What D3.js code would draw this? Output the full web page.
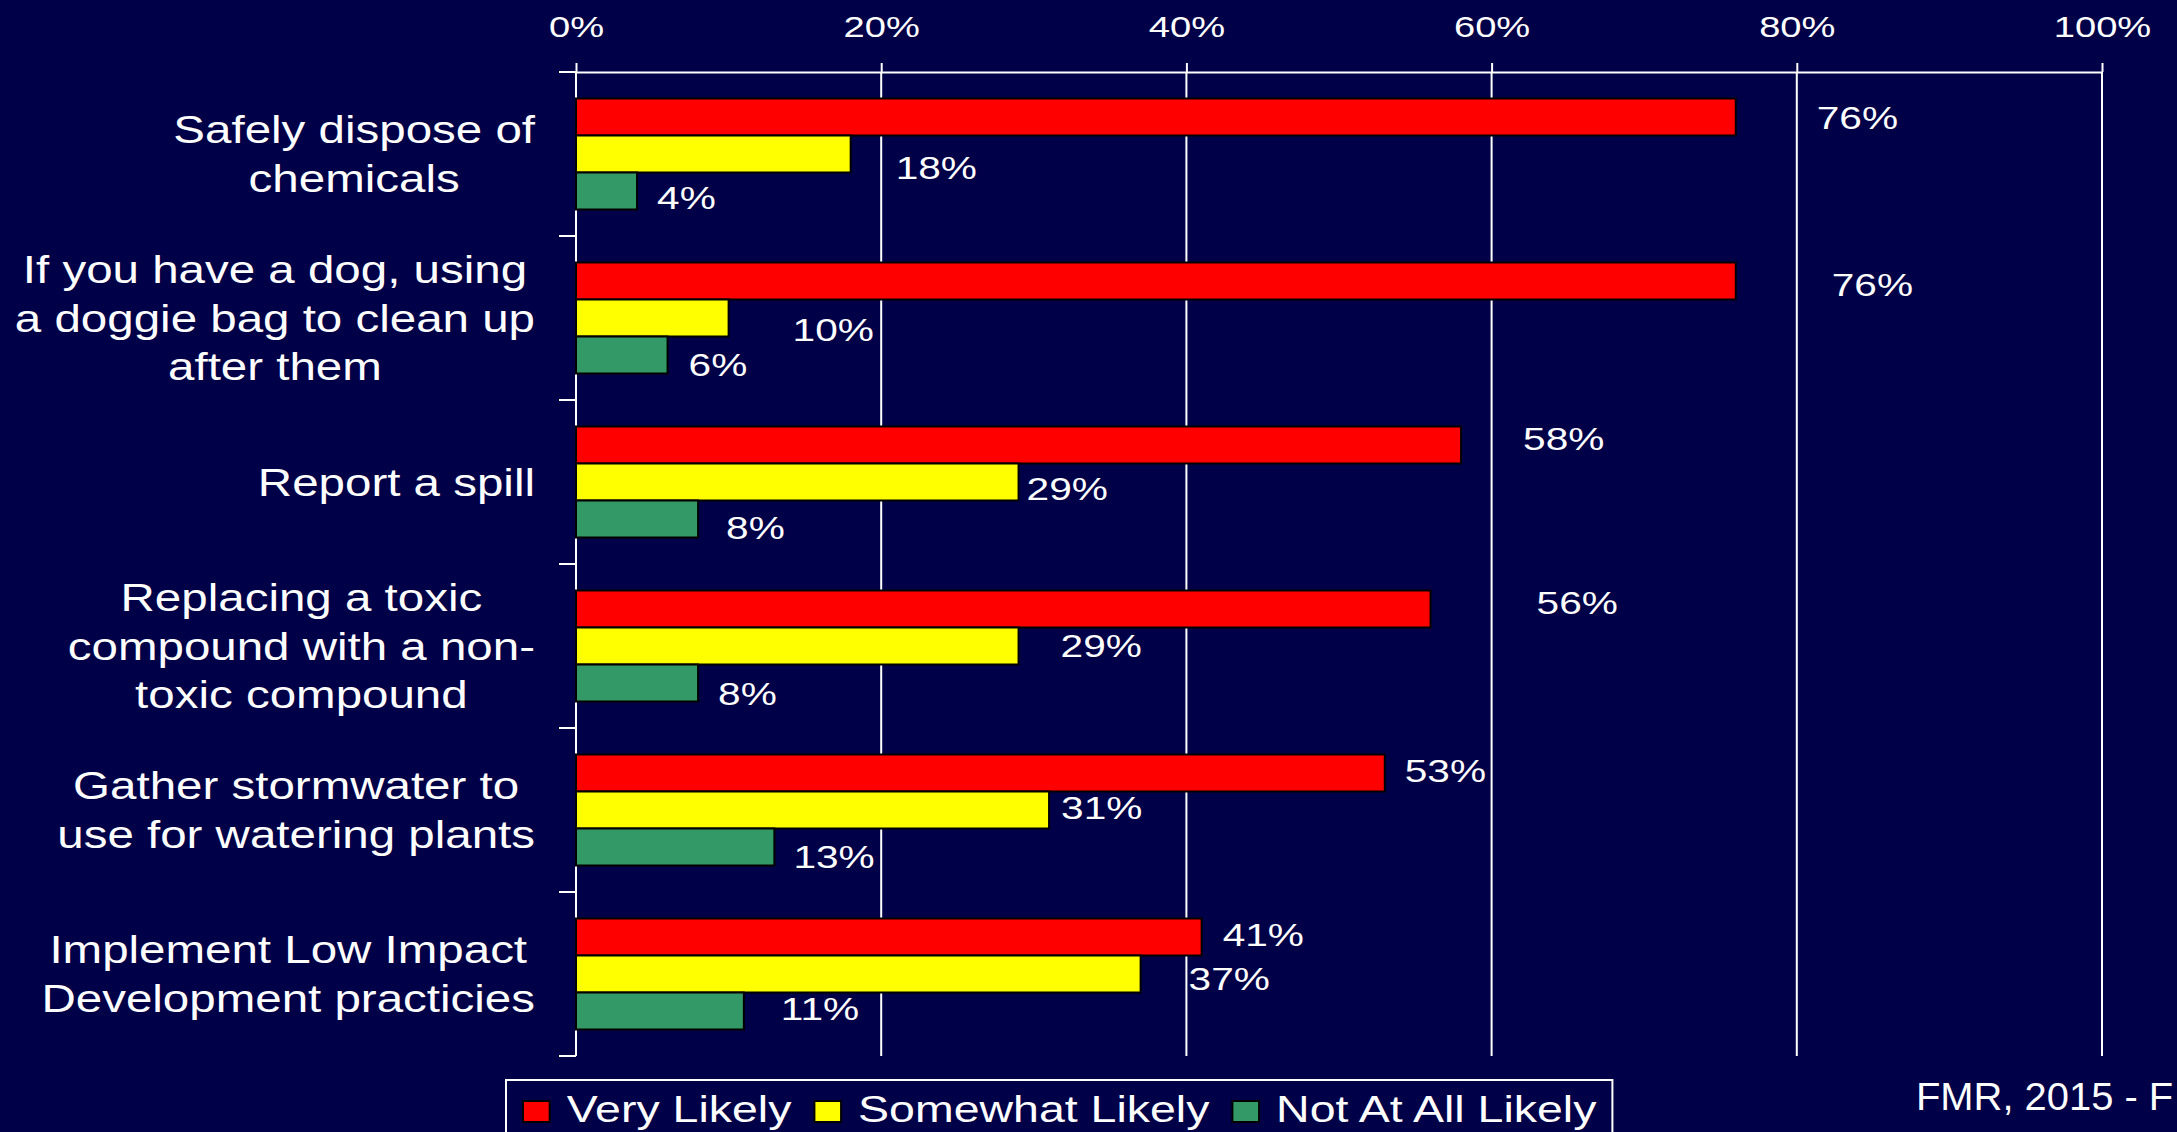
<!DOCTYPE html>
<html>
<head>
<meta charset="utf-8">
<script src="https://cdn.jsdelivr.net/npm/d3@7"></script>
<style>
  html, body { margin: 0; padding: 0; background: #000048; overflow: hidden; }
  svg { display: block; }
</style>
</head>
<body>
<svg id="chart" width="2177" height="1132"></svg>
<script>
// ---- data ----
const categories = [
  ["Safely dispose of", "chemicals"],
  ["If you have a dog, using", "a doggie bag to clean up", "after them"],
  ["Report a spill"],
  ["Replacing a toxic", "compound with a non-", "toxic compound"],
  ["Gather stormwater to", "use for watering plants"],
  ["Implement Low Impact", "Development practicies"]
];
const series = ["Very Likely", "Somewhat Likely", "Not At All Likely"];
const veryLikely     = [76, 76, 58, 56, 53, 41];
const somewhatLikely = [18, 10, 29, 29, 31, 37];
const notAtAllLikely = [4, 6, 8, 8, 13, 11];
const xTicks = [0, 20, 40, 60, 80, 100];
const footerText = "FMR, 2015 - F";

// hand-placed offsets of each value label from the end of its bar [dx, dy]
const labelNudges = [
  [[81, 1], [45, 14], [20, 7]],
  [[96, 4], [64, 12], [21, 10]],
  [[62, -6], [8, 7], [28, 9]],
  [[106, -6], [42, 0], [20, 11]],
  [[20, -2], [12, -2], [19, 10]],
  [[21, -2], [48, 5], [37, -2]]
];

const seriesValues = [veryLikely, somewhatLikely, notAtAllLikely];
const seriesColors = ["#ff0000", "#ffff00", "#339966"];

// ---- layout ----
const W = 2177, H = 1132;
const FONT = "'Liberation Sans', Arial, sans-serif";
const SX = 1.27;               // horizontal text stretch of the slide
const plot = { left: 576, right: 2102, top: 72, bottom: 1056 };

const svg = d3.select("#chart");
svg.append("rect").attr("width", W).attr("height", H).attr("fill", "#000048");

const x = d3.scaleLinear().domain([0, 100]).range([plot.left, plot.right]);
const y0 = d3.scaleBand().domain(d3.range(categories.length)).range([plot.top, plot.bottom]);
const y1 = d3.scaleBand().domain(series).range([0, y0.bandwidth()]).paddingOuter(0.716);

function stretch(x, y, sx = SX) { return `translate(${x},${y}) scale(${sx},1)`; }

// ---- top axis with grid ----
const gAxis = svg.append("g").attr("transform", `translate(0,${plot.top})`);
gAxis.call(d3.axisTop(x).tickValues(xTicks).tickSizeInner(9).tickSizeOuter(0).tickFormat(d => d + "%"));
gAxis.select(".domain").attr("stroke", "#fff").attr("stroke-width", 2);
gAxis.selectAll(".tick line").attr("stroke", "#fff").attr("stroke-width", 2);
gAxis.selectAll(".tick text")
  .attr("fill", "#fff").attr("y", 0).attr("dy", 0)
  .attr("font-family", FONT).attr("font-size", 30)
  .attr("text-anchor", "middle")
  .attr("transform", stretch(0, 37 - plot.top));

// vertical gridlines
svg.append("g").selectAll("line").data(xTicks).join("line")
  .attr("x1", d => x(d)).attr("x2", d => x(d))
  .attr("y1", plot.top).attr("y2", plot.bottom)
  .attr("stroke", "#fff").attr("stroke-width", 2);

// left axis: category boundary ticks
const bounds = y0.domain().map(i => y0(i)).concat([y0(categories.length - 1) + y0.bandwidth()]);
svg.append("g").selectAll("line").data(bounds).join("line")
  .attr("x1", plot.left - 17).attr("x2", plot.left)
  .attr("y1", d => d).attr("y2", d => d)
  .attr("stroke", "#fff").attr("stroke-width", 2);

// ---- bars ----
const rows = [];
categories.forEach((c, i) => series.forEach((s, j) => rows.push({ i, j, s, v: seriesValues[j][i] })));

svg.append("g").selectAll("rect").data(rows).join("rect")
  .attr("x", x(0))
  .attr("y", d => y0(d.i) + y1(d.s))
  .attr("width", d => x(d.v) - x(0))
  .attr("height", y1.bandwidth())
  .attr("fill", d => seriesColors[d.j])
  .attr("stroke", "#000").attr("stroke-width", 2);

// ---- value labels ----
const LABEL_SIZE = 32;
svg.append("g").selectAll("text").data(rows).join("text")
  .attr("font-family", FONT).attr("font-size", LABEL_SIZE).attr("fill", "#fff")
  .attr("transform", d => {
    const [dx, dy] = labelNudges[d.i][d.j];
    const cy = y0(d.i) + y1(d.s) + y1.bandwidth() / 2;
    return stretch(x(d.v) + dx, cy + dy + 0.358 * LABEL_SIZE);
  })
  .text(d => d.v + "%");

// ---- category labels ----
const CAT_SIZE = 38, CAT_LEAD = 48.5, CAT_RIGHT = 535, CAT_SX = 1.25;
categories.forEach((lines, i) => {
  const cy = y0(i) + y0.bandwidth() / 2;
  const g = svg.append("g").attr("transform", stretch(CAT_RIGHT, cy, CAT_SX));
  const t = g.append("text")
    .attr("font-family", FONT).attr("font-size", CAT_SIZE).attr("fill", "#fff")
    .attr("text-anchor", "middle");
  const spans = t.selectAll("tspan").data(lines).join("tspan")
    .attr("y", (d, k) => (k - (lines.length - 1) / 2) * CAT_LEAD + 0.358 * CAT_SIZE)
    .text(d => d);
  const maxW = d3.max(spans.nodes(), n => n.getComputedTextLength());
  spans.attr("x", -maxW / 2);
});

// ---- legend ----
const LEG_SIZE = 36.6, SW = 21;
const legend = svg.append("g");
const legBox = legend.append("rect")
  .attr("x", 506).attr("y", 1080).attr("height", 90)
  .attr("fill", "none").attr("stroke", "#fff").attr("stroke-width", 2);
let cursor = 523, textEnd = 0;
series.forEach((s, j) => {
  legend.append("rect")
    .attr("x", cursor).attr("y", 1122 - SW)
    .attr("width", SW * SX).attr("height", SW)
    .attr("fill", seriesColors[j]).attr("stroke", "#000").attr("stroke-width", 2);
  cursor += SW * SX + 17;
  const t = legend.append("text")
    .attr("font-family", FONT).attr("font-size", LEG_SIZE).attr("fill", "#fff")
    .attr("transform", stretch(cursor, 1122))
    .text(s);
  textEnd = cursor + t.node().getComputedTextLength() * SX;
  cursor = textEnd + 23;
});
legBox.attr("width", textEnd + 16 - 506);

// ---- source note ----
svg.append("text")
  .attr("font-family", FONT).attr("font-size", 38).attr("fill", "#fff")
  .attr("transform", stretch(1916, 1110, 1.05))
  .text(footerText);
</script>
</body>
</html>
